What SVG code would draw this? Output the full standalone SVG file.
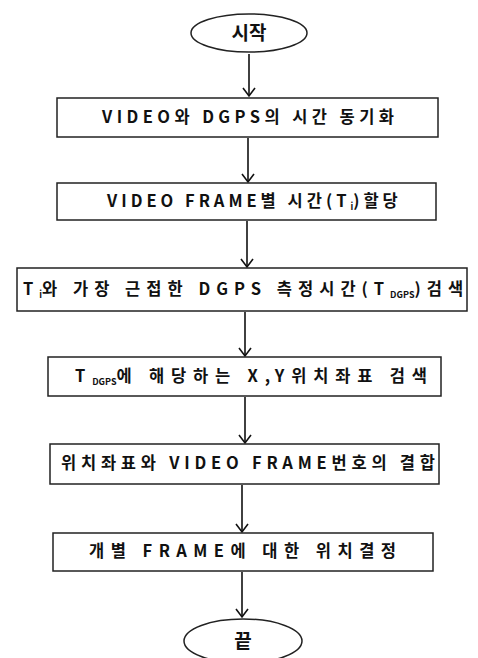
<svg xmlns="http://www.w3.org/2000/svg" width="478" height="658" viewBox="0 0 478 658">
<defs>
<style>
.box{fill:#fff;stroke:#222;stroke-width:1.5}
.t{font-family:"Noto Sans CJK KR","Noto Sans",sans-serif;font-weight:bold;font-size:16.5px;fill:#111}
.big{font-size:19px}
.sub{font-size:9px;letter-spacing:0}
.ln{stroke:#111;stroke-width:1.6;fill:none}
</style>
</defs>
<rect width="478" height="658" fill="#fff"/>
<g id="connectors">
<line class="ln" x1="249" y1="54" x2="249" y2="96"/>
<line class="ln" x1="248" y1="138" x2="248" y2="182"/>
<line class="ln" x1="247" y1="221" x2="247" y2="267"/>
<line class="ln" x1="245" y1="312" x2="245" y2="356"/>
<line class="ln" x1="245" y1="397" x2="245" y2="443"/>
<line class="ln" x1="242" y1="485" x2="242" y2="532"/>
<line class="ln" x1="242" y1="572" x2="242" y2="617"/>
<path class="ln" d="M243,88 L249,96 L255,88"/>
<path class="ln" d="M242,174 L248,182 L254,174"/>
<path class="ln" d="M241,259 L247,267 L253,259"/>
<path class="ln" d="M239,348 L245,356 L251,348"/>
<path class="ln" d="M239,435 L245,443 L251,435"/>
<path class="ln" d="M236,524 L242,532 L248,524"/>
<path class="ln" d="M236,609 L242,617 L248,609"/>
</g>
<g id="start">
<ellipse class="box" cx="249" cy="33" rx="58" ry="19"/>
<text class="t big" x="249" y="40" text-anchor="middle">시작</text>
</g>
<g id="n1">
<rect class="box" x="57" y="98" width="381" height="39"/>
<text class="t" x="102" y="123" textLength="292" lengthAdjust="spacing">VIDEO와 DGPS의 시간 동기화</text>
</g>
<g id="n2">
<rect class="box" x="57" y="183" width="379" height="37"/>
<text class="t" x="107" y="207" letter-spacing="4">VIDEO FRAME별 시간(T<tspan class="sub" dy="3">i</tspan><tspan dy="-3">)할당</tspan></text>
</g>
<g id="n3">
<rect class="box" x="17" y="268" width="450" height="43"/>
<text class="t" x="23" y="295" letter-spacing="6">T<tspan class="sub" dy="3">i</tspan><tspan dy="-3">와 가장 근접한 DGPS 측정시간(T</tspan><tspan class="sub" dy="3">DGPS</tspan><tspan dy="-3">)검색</tspan></text>
</g>
<g id="n4">
<rect class="box" x="48" y="357" width="393" height="39"/>
<text class="t" x="75" y="382" letter-spacing="6.8">T<tspan class="sub" dy="3">DGPS</tspan><tspan dy="-3">에 해당하는 X,Y위치좌표 검색</tspan></text>
</g>
<g id="n5">
<rect class="box" x="50" y="444" width="389" height="40"/>
<text class="t" x="61" y="469" textLength="374" lengthAdjust="spacing">위치좌표와 VIDEO FRAME번호의 결합</text>
</g>
<g id="n6">
<rect class="box" x="53" y="533" width="380" height="38"/>
<text class="t" x="89" y="557" textLength="307" lengthAdjust="spacing">개별 FRAME에 대한 위치결정</text>
</g>
<g id="end">
<ellipse class="box" cx="243" cy="641" rx="59" ry="22"/>
<text class="t big" x="243" y="648" text-anchor="middle">끝</text>
</g>
</svg>
